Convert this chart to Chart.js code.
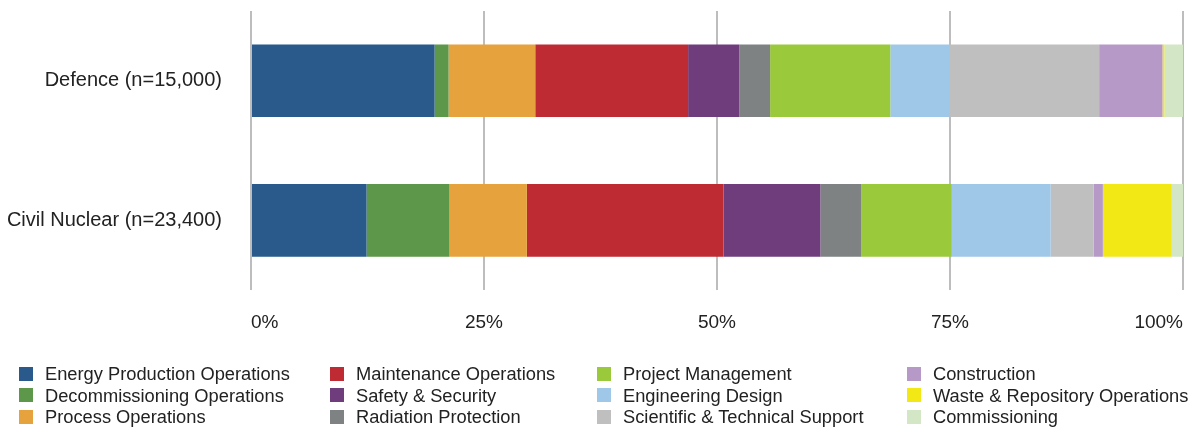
<!DOCTYPE html>
<html>
<head>
<meta charset="utf-8">
<script src="https://cdn.jsdelivr.net/npm/chart.js@4"></script>
<style>
    html, body { margin: 0; padding: 0; background: #fff; }
    body { width: 1194px; height: 430px; position: relative; overflow: hidden;
           font-family: "Liberation Sans", Arial, sans-serif; color: #222; }
    #chart-box { position: absolute; left: 0; top: 0; width: 1194px; height: 367px; }
    #legend { position: absolute; left: 19px; top: 363px; display: grid;
              grid-template-columns: 311px 267px 310px auto;
              grid-template-rows: repeat(3, 21.5px); grid-auto-flow: column;
              font-size: 18.3px; line-height: 21.5px; }
    #legend .item { display: flex; align-items: center; white-space: nowrap; }
    #legend .swatch { width: 14px; height: 14px; margin-right: 12px; flex: none; }
</style>
</head>
<body>
<div id="chart-box"><canvas id="chart"></canvas></div>
<div id="legend"></div>
<script>
// Workforce split by job family, percent of each sector
const categories = ['Defence (n=15,000)', 'Civil Nuclear (n=23,400)'];

const jobFamilies = [
    'Energy Production Operations', 'Decommissioning Operations', 'Process Operations',
    'Maintenance Operations', 'Safety & Security', 'Radiation Protection',
    'Project Management', 'Engineering Design', 'Scientific & Technical Support',
    'Construction', 'Waste & Repository Operations', 'Commissioning'
];

// [Defence, Civil Nuclear] for each job family, same order as above
const energyProduction   = [19.7, 12.4];
const decommissioning    = [1.5, 8.9];
const processOps         = [9.3, 8.3];
const maintenance        = [16.4, 21.1];
const safetySecurity     = [5.5, 10.4];
const radiationProtect   = [3.3, 4.4];
const projectManagement  = [12.9, 9.7];
const engineeringDesign  = [6.4, 10.6];
const sciTechSupport     = [16.0, 4.6];
const construction       = [6.8, 1.0];
const wasteRepository    = [0.2, 7.4];
const commissioning      = [2.0, 1.2];

const xTicks = [0, 25, 50, 75, 100];

const seriesValues = [
    energyProduction, decommissioning, processOps,
    maintenance, safetySecurity, radiationProtect,
    projectManagement, engineeringDesign, sciTechSupport,
    construction, wasteRepository, commissioning
];

const palette = [
    '#295a8b', '#5d9749', '#e6a23d',
    '#be2b32', '#6f3d7c', '#7e8283',
    '#9aca3c', '#9fc8e8', '#bfbfbf',
    '#b699c7', '#f2e816', '#d3e7c6'
];

const FONT = '"Liberation Sans", Arial, sans-serif';

const datasets = jobFamilies.map((name, i) => ({
    label: name,
    data: seriesValues[i],
    backgroundColor: palette[i],
    borderWidth: 0,
    barPercentage: 0.52,
    categoryPercentage: 1
}));

new Chart(document.getElementById('chart'), {
    type: 'bar',
    data: { labels: categories, datasets },
    options: {
        indexAxis: 'y',
        responsive: true,
        maintainAspectRatio: false,
        animation: false,
        layout: { padding: { top: 11, right: 11, bottom: 12, left: 0 } },
        plugins: {
            legend: { display: false },
            tooltip: { enabled: false }
        },
        scales: {
            x: {
                stacked: true,
                min: 0,
                max: 100,
                afterBuildTicks: (scale) => { scale.ticks = xTicks.map(v => ({ value: v })); },
                // labels are aligned inward, so no extra side padding is needed
                afterFit: (scale) => { scale.paddingLeft = 0; scale.paddingRight = 0; },
                grid: { color: '#bdbdbd', lineWidth: 2, drawTicks: false },
                border: { display: false },
                ticks: {
                    align: 'inner',
                    padding: 21,
                    color: '#222',
                    font: { family: FONT, size: 19 },
                    callback: (v) => v + '%'
                }
            },
            y: {
                stacked: true,
                grid: { display: false, drawTicks: false },
                border: { display: false },
                afterFit: (scale) => {
                    scale.width = 251;
                    scale.paddingTop = 0;
                    scale.paddingBottom = 0;
                },
                ticks: {
                    padding: 29,
                    color: '#222',
                    font: { family: FONT, size: 20 }
                }
            }
        }
    }
});

// Legend laid out in four columns, filled top to bottom
const legendEl = document.getElementById('legend');
jobFamilies.forEach((name, i) => {
    const item = document.createElement('div');
    item.className = 'item';
    item.innerHTML = `<span class="swatch" style="background:${palette[i]}"></span><span>${name.replace(/&/g, '&amp;')}</span>`;
    legendEl.appendChild(item);
});
</script>
</body>
</html>
